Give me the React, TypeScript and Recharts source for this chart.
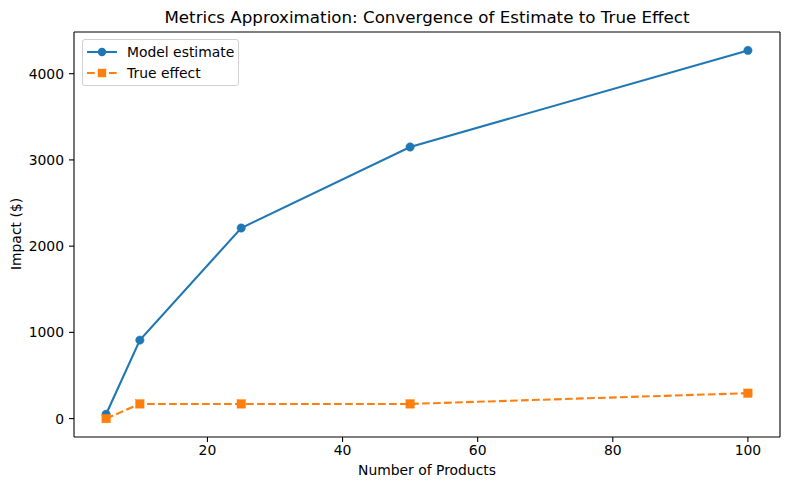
import React from 'react';
import { LineChart, Line, XAxis, YAxis } from 'recharts';

const products = [5, 10, 25, 50, 100];
const modelEstimate = [50, 910, 2210, 3150, 4270];
const trueEffect = [0, 170, 170, 170, 295];
const xTicks = [20, 40, 60, 80, 100];
const yTicks = [0, 1000, 2000, 3000, 4000];

const data = products.map((p, i) => ({ x: p, est: modelEstimate[i], tru: trueEffect[i] }));

const FONT = 'DejaVu Sans, sans-serif';
const BLUE = '#1f77b4';
const ORANGE = '#ff7f0e';

const SquareDot = (props: any) => {
  const { cx, cy } = props;
  if (cx == null || cy == null) return null;
  return <rect x={cx - 4.2} y={cy - 4.2} width={8.4} height={8.4} fill={ORANGE} stroke={ORANGE} strokeWidth={0.5} />;
};

export default function App() {
  const tickStyle = { fontFamily: FONT, fontSize: 13.9, fill: '#000' };
  return (
    <div style={{ position: 'absolute', left: 0, top: 0, width: 790, height: 490, background: '#fff', fontFamily: FONT }}>
      <LineChart width={790} height={490} data={data} margin={{ top: 32, right: 10, left: 0, bottom: 0 }}>
        <XAxis
          dataKey="x"
          type="number"
          domain={[0.25, 104.75]}
          allowDataOverflow
          ticks={xTicks}
          height={53}
          tickSize={5}
          tickMargin={3}
          tick={tickStyle}
          axisLine={{ stroke: '#000', strokeWidth: 1.1 }}
          tickLine={{ stroke: '#000', strokeWidth: 1.1 }}
        />
        <YAxis
          type="number"
          domain={[-213.5, 4483.5]}
          allowDataOverflow
          ticks={yTicks}
          width={74}
          tickSize={5}
          tickMargin={5}
          tick={tickStyle}
          axisLine={{ stroke: '#000', strokeWidth: 1.1 }}
          tickLine={{ stroke: '#000', strokeWidth: 1.1 }}
        />
        <Line
          dataKey="est"
          stroke={BLUE}
          strokeWidth={2.1}
          dot={{ r: 4.2, fill: BLUE, stroke: BLUE, strokeWidth: 0.5 }}
          isAnimationActive={false}
        />
        <Line
          dataKey="tru"
          stroke={ORANGE}
          strokeWidth={2.1}
          strokeDasharray="7.7 3.3"
          dot={<SquareDot />}
          isAnimationActive={false}
        />
      </LineChart>
      <svg width={790} height={490} style={{ position: 'absolute', left: 0, top: 0, pointerEvents: 'none' }}>
        <line x1={74} x2={780} y1={32} y2={32} stroke="#000" strokeWidth={1.1} />
        <line x1={780} x2={780} y1={32} y2={437} stroke="#000" strokeWidth={1.1} />
      </svg>
      <div style={{ position: 'absolute', left: 74, width: 706, top: 7, textAlign: 'center', fontSize: 16.7, color: '#000', whiteSpace: 'nowrap' }}>
        Metrics Approximation: Convergence of Estimate to True Effect
      </div>
      <div style={{ position: 'absolute', left: 74, width: 706, top: 462, textAlign: 'center', fontSize: 13.9, color: '#000' }}>
        Number of Products
      </div>
      <div style={{ position: 'absolute', left: 16, top: 234, width: 0, height: 0 }}>
        <div style={{ position: 'absolute', transform: 'translate(-50%, -50%) rotate(-90deg)', whiteSpace: 'nowrap', fontSize: 13.9, color: '#000' }}>
          Impact ($)
        </div>
      </div>
      <div style={{ position: 'absolute', left: 82, top: 39, width: 155, height: 45, border: '1px solid #d0d0d0', borderRadius: 3, background: 'rgba(255,255,255,0.8)' }}>
        <svg width={155} height={45} style={{ position: 'absolute', left: 0, top: 0 }}>
          <line x1={4} x2={34} y1={12} y2={12} stroke={BLUE} strokeWidth={2.1} />
          <circle cx={19} cy={12} r={4.2} fill={BLUE} />
          <line x1={4} x2={34} y1={33} y2={33} stroke={ORANGE} strokeWidth={2.1} strokeDasharray="7.7 3.3" />
          <rect x={14.8} y={28.8} width={8.4} height={8.4} fill={ORANGE} />
          <text x={44} y={12} dy="0.35em" fontSize={13.9} fontFamily={FONT} fill="#000">Model estimate</text>
          <text x={44} y={33} dy="0.35em" fontSize={13.9} fontFamily={FONT} fill="#000">True effect</text>
        </svg>
      </div>
    </div>
  );
}
